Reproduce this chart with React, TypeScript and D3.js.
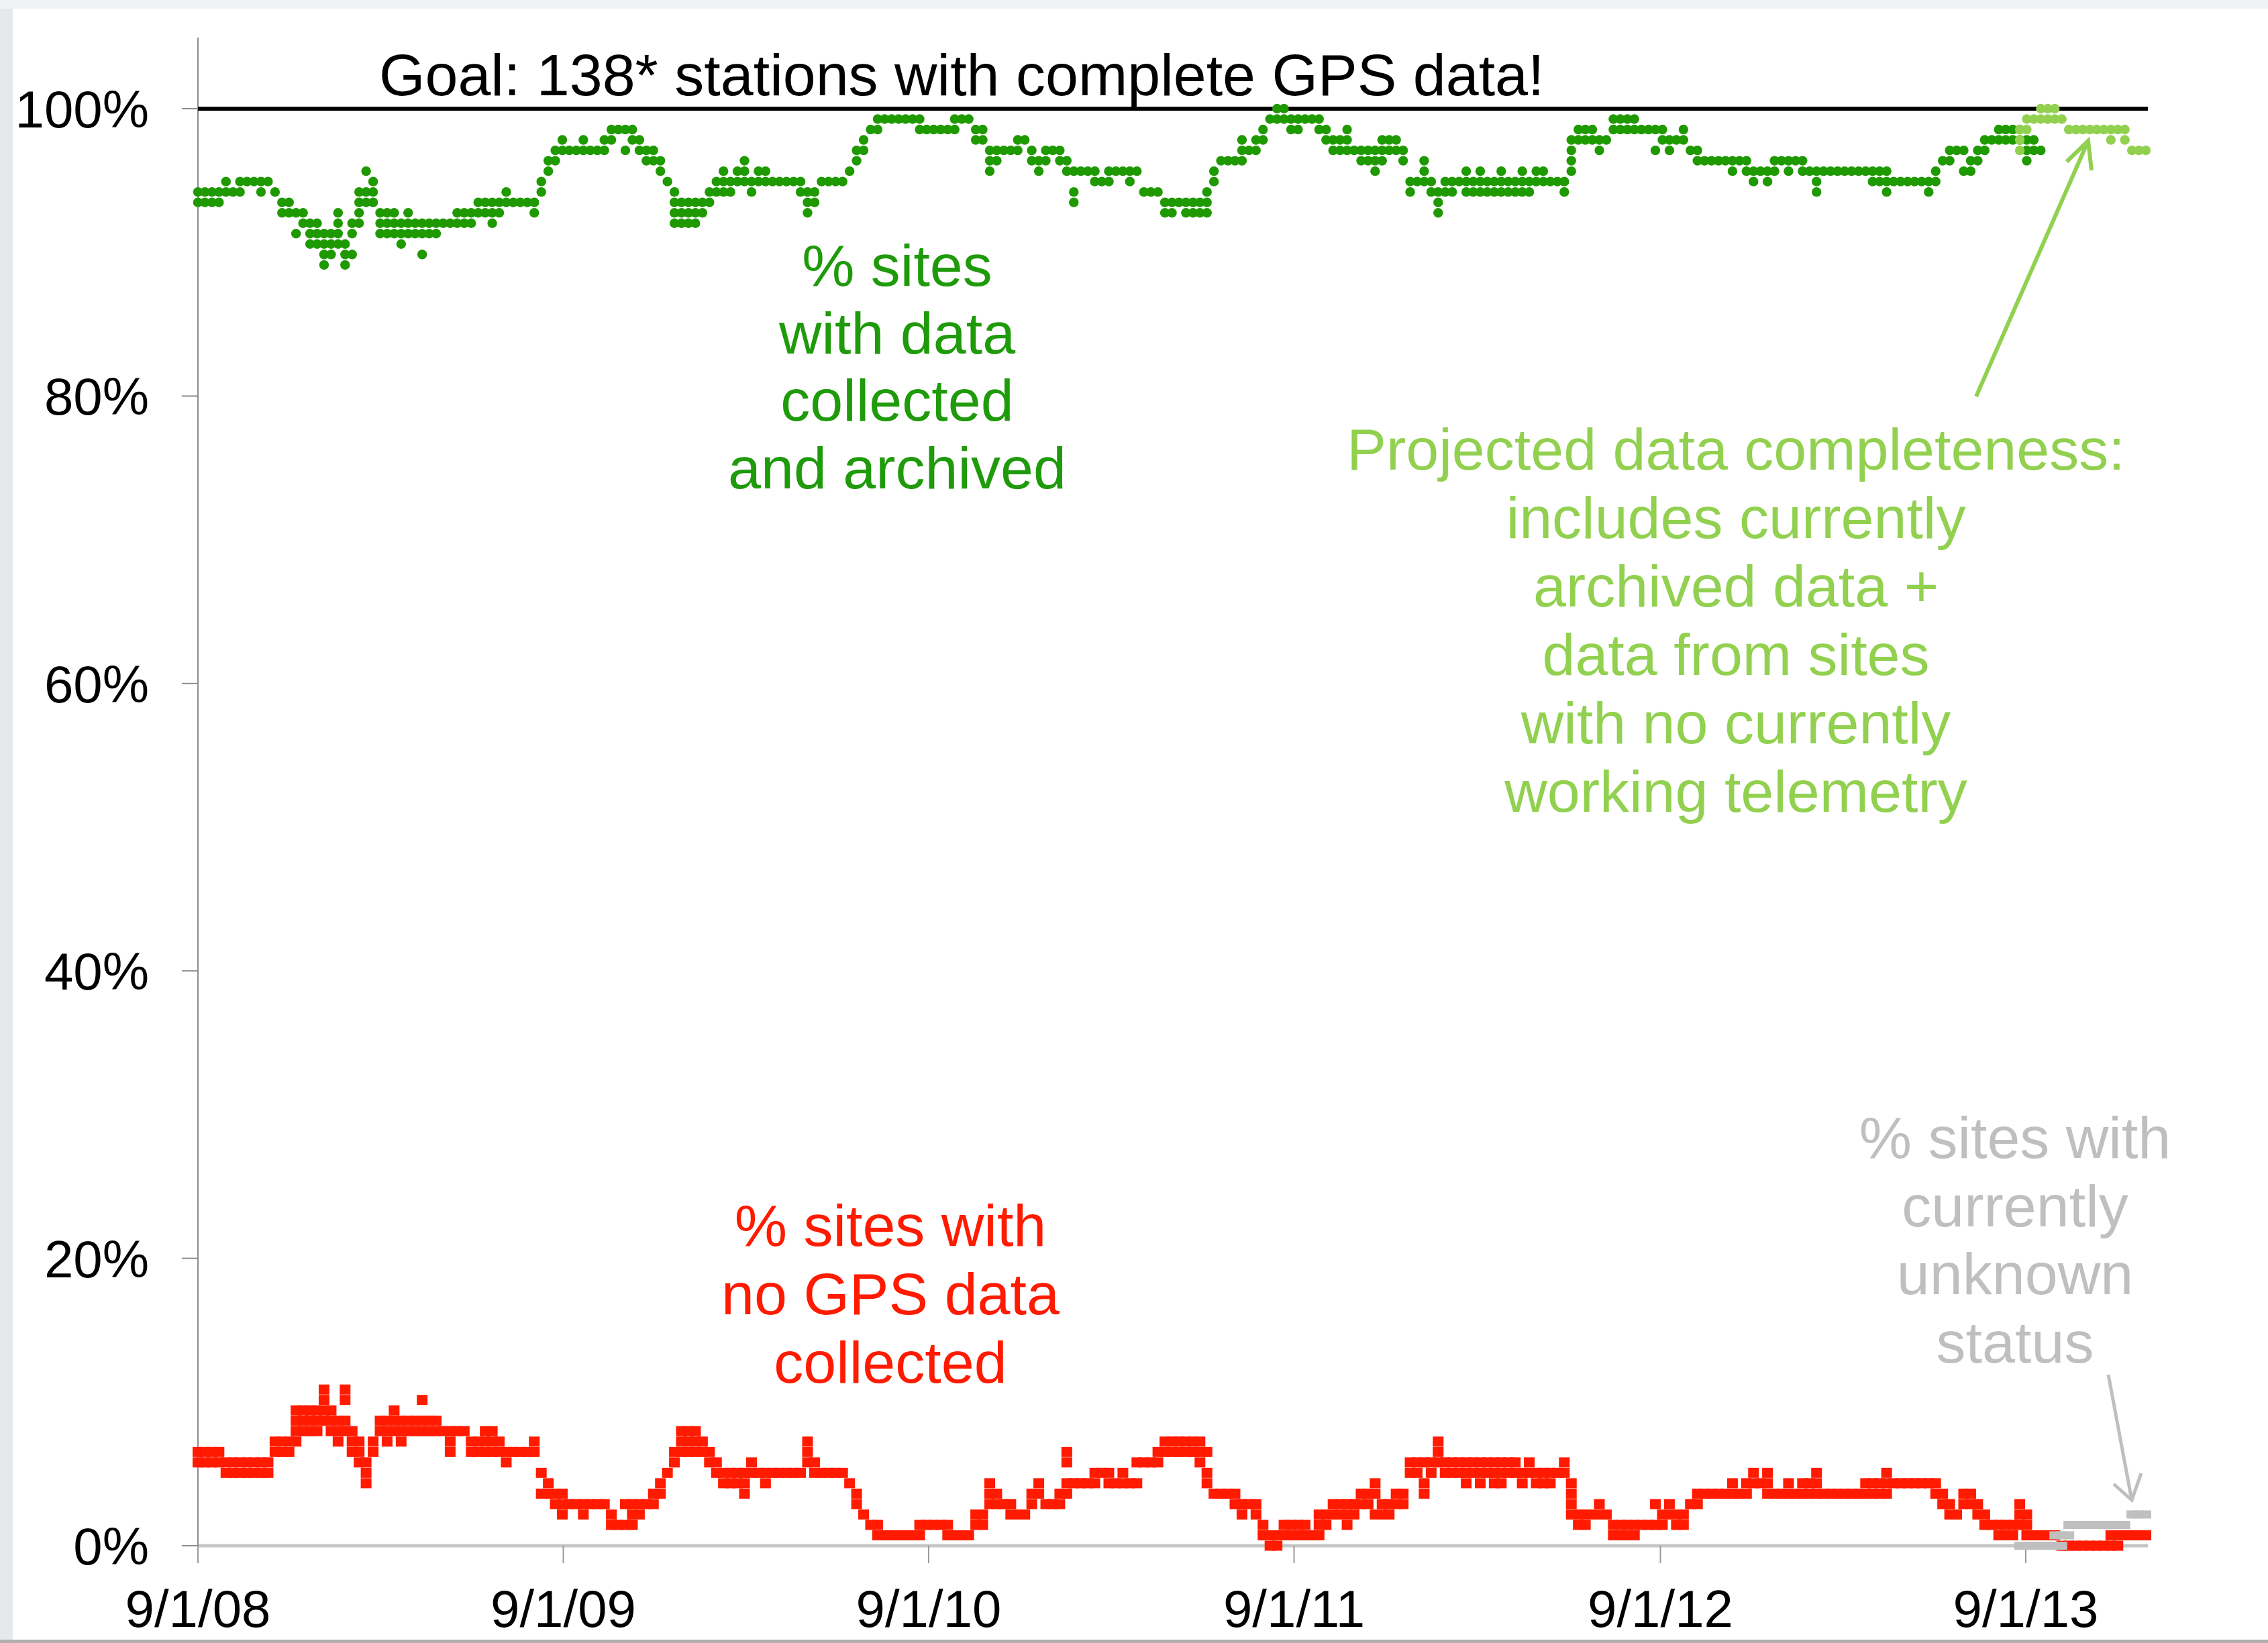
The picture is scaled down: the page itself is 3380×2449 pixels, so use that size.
import React from 'react';
import * as d3 from 'd3';

// ---------- data ----------
const START_DATE = '2008-09-01';
const END_DATE = '2014-01-01';
const X_TICK_DATES = ['2008-09-01', '2009-09-01', '2010-09-01', '2011-09-01', '2012-09-01', '2013-09-01'];
const X_TICK_LABELS = ['9/1/08', '9/1/09', '9/1/10', '9/1/11', '9/1/12', '9/1/13'];
const Y_TICKS = [0, 20, 40, 60, 80, 100];
const TOTAL_STATIONS = 138;
const GOAL_PCT = 100;

// Weekly readings, week 0 = 9/1/08. Each entry lists the station counts seen in that week.
// Stations WITHOUT archived data (green series = share of stations with data).
const archivedMissing: number[][] = [
  [8,9],[8,9],[8,9],[8,9],[7,8],[8],[7,8],[7],[7],[7,8],[7],[8],
  [10,9],[10,9],[10,12],[11,10],[12,11,13],[12,11,13],[13,12,14,15],[14,12,13],[12,10,11,13],[13,14,15],[14,12,11],[10,9,8,11],
  [8,6,9],[7,8,9],[10,11,12],[11,10,12],[11,12,10],[12,11,13],[11,12,10],[11,12],[12,11,14],[11,12],[11,12],[11],
  [11],[10,11],[11,10],[11,10],[10,9],[9,10],[11,10,9],[9,10],[8,9],[9],[9],[9],
  [10,9],[7,8],[5,6],[5,4],[4,3],[4],[4],[4,3],[4],[4],[3,4],[2,3],
  [2],[2,4],[3,2],[3,4],[4,5],[4,5],[6,5],[7],[9,8,10,11],[9,10,11],[9,10,11],[9,10,11],
  [9,10],[8,9],[7,8],[7,6,8],[7,8],[7,6],[7,5,6],[7,8],[7,6],[6,7],[7],[7],
  [7],[7],[7,8],[8,9,10],[9,8],[7],[7],[7],[7],[6],[5,4],[3,4],
  [2],[1,2],[1],[1],[1],[1],[1],[2,1],[2],[2],[2],[2],
  [1,2],[1],[1],[2,3],[3,2],[4,5,6],[4,5],[4],[4],[3,4],[3],[5,4],
  [5,6],[4,5],[4],[4,5],[6,5],[6,8,9],[6],[6],[7,6],[7],[6,7],[6],
  [6],[6,7],[6],[8],[8],[8],[9,10],[9,10],[9],[9,10],[9,10],[9,10],
  [8,9,10],[6,7],[5],[5],[5],[4,3,5],[4],[4,3],[2,3],[1],[1,0],[1,0],
  [1,2],[1,2],[1],[1],[1,2],[2,3],[3,4],[4,3],[4,2,3],[4],[4,5],[4,5],
  [5,4,6],[4,3,5],[4,3],[4,3],[4,5],[7,8],[7],[7,5,6],[7,8],[8,9,10],[7,8],[7,8],
  [7],[7,6,8],[7,8],[7,6,8],[7,8],[7,8],[7,6,8],[7,8],[7,8],[7,6,8],[7,8],[7,6],
  [7,6],[7],[7],[7,8],[3,4,5,6],[3,2],[3,2],[3,2],[3,4],[3],[2,1],[2,1],
  [2,1],[2,1],[2],[2],[2,4],[3,2],[3,4],[3],[3,2],[4],[4,5],[5],
  [5],[5],[5],[5,6],[5],[6,5],[6,7],[6],[6,7],[5,6],[5],[5,6],
  [5],[6,5],[6],[6,7,8],[6],[6],[6],[6],[6],[6],[6],[7,6],
  [7,6],[7,6,8],[7],[7],[7],[7],[7],[8,7],[7,6],[5],[4,5],[4],
  [4,6],[6,5],[5,4],[4,3],[3],[3,2],[3,2],[3,2],[3,2],[4,5,3],[3,4],[4],
];

// Projected completeness (light green), first week index 260.
const PROJECTED_START_WEEK = 260;
const projectedMissing: number[][] = [
  [3,4,2],[1,2],[1],[0,1],[0,1],[0,1],[1],[2],[2],[2],[2],[2],[2],[2,3],[2],[3,2],[4],[4],[4],
];

// Stations with no GPS data collected (red).
const noDataCount: number[][] = [
  [8,9],[8,9],[8,9],[8,9],[7,8],[8,7],[7,8],[7,8],[7,8],[7,8],[8,7],[9,10],
  [10,9],[10,9],[10,11,12,13],[12,11,13],[13,11,12],[13,12,11],[13,14,15,12],[12,11,13],[11,12,10],[12,14,15,11],[11,10,9],[9,8,10],
  [8,7,6],[9,10],[11,12],[11,12,10],[12,13,11],[11,12,10],[12,11],[12,11],[12,11,14],[12,11],[11,12],[11],
  [10,9,11],[11],[11],[10,9],[10,9],[10,9,11],[10,9,11],[9,10],[9,8],[9],[9],[9],
  [9,10],[7,5],[6,5],[5,4],[4,3,5],[4],[4],[4,3],[4],[4],[4],[3,2],
  [2],[2,4],[2,4,3],[3,4],[4],[4,5],[5,6],[7],[8,9],[9,10,11],[9,10,11],[9,10,11],
  [9,10],[9,8],[8,7],[7,6],[7,6],[7,6],[7,6,5],[7,8],[7],[7,6],[7],[7],
  [7],[7],[7],[9,10,8],[8,7],[7],[7],[7],[7],[6],[5,4],[3],
  [2],[2,1],[1],[1],[1],[1],[1],[2,1],[2],[2],[2],[2,1],
  [1],[1],[1],[2,3],[2,3],[4,6,5],[4,5],[4],[4,3],[3],[3],[4,5],
  [5,6],[4],[4],[4,5],[6,5,8,9],[6],[6],[6],[6,7],[7],[6,7],[6],
  [6,7],[6],[6,8],[8],[8],[9,8],[9,10],[9,10],[9,10],[10,9],[10,9],[10,9,8],
  [9,7,6],[5],[5],[5],[5,4],[4,3],[4],[4,3],[2,1],[1,0],[1,0],[1,2],
  [1,2],[1,2],[1,2],[1],[1,3,2],[3,2],[3,4],[4,3],[4,2,3],[4,3],[5,4],[5,4],
  [5,6,3],[4,3],[4,3],[5,4],[5,4],[7,8],[7,8],[8,6,5],[8,7],[8,9,10],[8,7],[7,8],
  [7,8],[7,8,6],[7,8],[7,8,6],[7,8],[7,8,6],[7,8,6],[7,8],[7,8],[7,6],[7,8],[7,6],
  [7,6],[7,6],[7],[7,8],[3,4,5,6],[3,2],[3,2],[3],[3,4],[3],[2,1],[2,1],
  [2,1],[2,1],[2],[2],[2,4],[3,2],[3,4],[3,2],[3,2],[4],[4,5],[5],
  [5],[5],[5],[5,6],[5],[6,5],[6,7],[6],[6,7,5],[5],[5],[5,6],
  [5],[5,6],[5,6],[5,6,7],[5],[5],[5],[5],[5],[5],[5,6],[6,5],
  [6,5],[6,5,7],[6],[6],[6],[6],[6],[6],[5,6],[4,5],[3,4],[3],
  [4,5],[4,5],[3,4],[2,3],[2],[1,2],[1,2],[1,2],[2,3,4],[1,2,3],[1],[1],
  [1],[1],[0],[0],[0],[0],[0],[0],[0],[0,1],[0,1],[1],
  [1],[1],[1],
];

// Stations with currently unknown status (gray), first week index 260.
const UNKNOWN_START_WEEK = 260;
const unknownCount: number[][] = [
  [0],[0],[0],[0],[0],[0,1],[0,1],[2,1],[2],[2],[2],[2],[2],[2],[2],[2],[3],[3],[3],
];

// ---------- styling ----------
const FONT = '"Liberation Sans", Arial, Helvetica, sans-serif';
const C_GREEN = '#1f9900';
const C_LIGHT = '#92d050';
const C_RED = '#ff1a00';
const C_GRAY = '#bfbfbf';

const W = 3380;
const H = 2449;

type Pt = { date: Date; pct: number };

function expand(rows: number[][], startWeek: number, start: Date, toPct: (k: number) => number): Pt[] {
  const out: Pt[] = [];
  rows.forEach((vals, i) => {
    const date = d3.utcWeek.offset(start, startWeek + i);
    vals.forEach((k) => out.push({ date, pct: toPct(k) }));
  });
  return out;
}

export default function App() {
  const parse = d3.utcParse('%Y-%m-%d');
  const start = parse(START_DATE)!;
  const end = parse(END_DATE)!;

  const x = d3.scaleUtc().domain([start, end]).range([295, 3201]);
  const y = d3.scaleLinear().domain([0, 100]).range([2304, 162]);

  const pctWith = (k: number) => (100 * (TOTAL_STATIONS - k)) / TOTAL_STATIONS;
  const pctOf = (k: number) => (100 * k) / TOTAL_STATIONS;

  const green = expand(archivedMissing, 0, start, pctWith);
  const projected = expand(projectedMissing, PROJECTED_START_WEEK, start, pctWith);
  const red = expand(noDataCount, 0, start, pctOf);
  const gray = expand(unknownCount, UNKNOWN_START_WEEK, start, pctOf);

  const [x0, x1] = x.range();
  const y0 = y(0);
  const tickDates = X_TICK_DATES.map((s) => parse(s)!);

  const multiline = (lines: string[], cx: number, firstBaseline: number, step: number, color: string, fs = 88) => (
    <text x={cx} y={firstBaseline} fill={color} fontSize={fs} fontFamily={FONT} textAnchor="middle">
      {lines.map((l, i) => (
        <tspan key={i} x={cx} y={firstBaseline + i * step}>
          {l}
        </tspan>
      ))}
    </text>
  );

  return (
    <svg
      width={W}
      height={H}
      viewBox={`0 0 ${W} ${H}`}
      style={{ position: 'absolute', left: 0, top: 0, display: 'block' }}
    >
      {/* slide frame */}
      <rect x={0} y={0} width={W} height={H} fill="#ffffff" />
      <rect x={0} y={0} width={W} height={13} fill="#f1f2f4" />
      <rect x={0} y={13} width={19} height={H - 13} fill="#e6e8eb" />
      <rect x={0} y={H - 5} width={W} height={5} fill="#b0b0b0" />

      {/* x axis line */}
      <line x1={x0} x2={x1} y1={y0} y2={y0} stroke="#c6c6c6" strokeWidth={5} />
      {/* y axis */}
      <line x1={x0} x2={x0} y1={56} y2={2330} stroke="#8c8c8c" strokeWidth={2} />
      {Y_TICKS.map((t) => (
        <g key={t}>
          <line x1={271} x2={x0} y1={y(t)} y2={y(t)} stroke="#8c8c8c" strokeWidth={2} />
          <text x={222} y={y(t) + 28} fontSize={78} fontFamily={FONT} textAnchor="end" fill="#000">
            {`${t}%`}
          </text>
        </g>
      ))}
      {tickDates.map((d, i) => (
        <g key={i}>
          <line x1={x(d)} x2={x(d)} y1={y0} y2={2330} stroke="#9a9a9a" strokeWidth={2} />
          <text x={x(d)} y={2425} fontSize={78} fontFamily={FONT} textAnchor="middle" fill="#000">
            {X_TICK_LABELS[i]}
          </text>
        </g>
      ))}

      {/* goal line */}
      <line x1={x0} x2={x1} y1={y(GOAL_PCT)} y2={y(GOAL_PCT)} stroke="#000" strokeWidth={6} />
      <text x={565} y={142} fontSize={88} fontFamily={FONT} fill="#000">
        Goal: 138* stations with complete GPS data!
      </text>

      {/* series */}
      <g fill={C_GREEN}>
        {green.map((p, i) => (
          <circle key={i} cx={x(p.date)} cy={y(p.pct)} r={7.2} />
        ))}
      </g>
      <g fill={C_LIGHT}>
        {projected.map((p, i) => (
          <circle key={i} cx={x(p.date)} cy={y(p.pct)} r={7.2} />
        ))}
      </g>
      <g fill={C_RED}>
        {red.map((p, i) => (
          <rect key={i} x={x(p.date) - 8} y={y(p.pct) - 7.5} width={16} height={15} />
        ))}
      </g>
      <g fill={C_GRAY}>
        {gray.map((p, i) => (
          <rect key={i} x={x(p.date) - 8} y={y(p.pct) - 6} width={16} height={12} />
        ))}
      </g>

      {/* annotations */}
      {multiline(['% sites', 'with data', 'collected', 'and archived'], 1337, 426, 100.5, '#1f9a0b')}
      {multiline(['% sites with', 'no GPS data', 'collected'], 1327, 1857, 102, C_RED)}
      {multiline(
        [
          'Projected data completeness:',
          'includes currently',
          'archived data +',
          'data from sites',
          'with no currently',
          'working telemetry',
        ],
        2587,
        700,
        102,
        C_LIGHT
      )}
      {multiline(['% sites with', 'currently', 'unknown', 'status'], 3003, 1726, 101.5, C_GRAY)}

      {/* arrows */}
      <g fill="none" stroke={C_LIGHT} strokeWidth={6} strokeLinecap="butt" strokeLinejoin="miter">
        <line x1={2945} y1={591} x2={3112} y2={210} />
        <polyline points="3080,241 3112,210 3117,254" />
      </g>
      <g fill="none" stroke={C_GRAY} strokeWidth={5} strokeLinecap="butt" strokeLinejoin="miter">
        <line x1={3142} y1={2049} x2={3177} y2={2236} />
        <polyline points="3150,2212 3177,2236 3191,2196" />
      </g>
    </svg>
  );
}
